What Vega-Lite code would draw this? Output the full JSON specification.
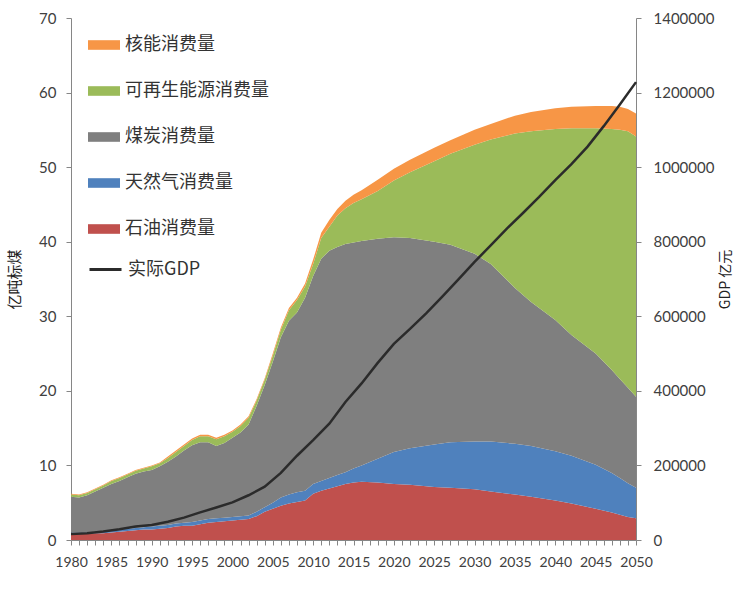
{
  "$schema": "https://vega.github.io/schema/vega-lite/v6.json",
  "width": 565,
  "height": 522,
  "autosize": "none",
  "padding": {"left": 71, "top": 18, "right": 100, "bottom": 57},
  "background": "white",
  "datasets": {
    "energy": [
      {"year": 1980, "oil": 0.8, "gas": 0.2, "coal": 4.8, "renewable": 0.3, "nuclear": 0.1},
      {"year": 1981, "oil": 0.8, "gas": 0.2, "coal": 4.7, "renewable": 0.3, "nuclear": 0.1},
      {"year": 1982, "oil": 0.8, "gas": 0.2, "coal": 5.0, "renewable": 0.3, "nuclear": 0.1},
      {"year": 1983, "oil": 0.9, "gas": 0.2, "coal": 5.4, "renewable": 0.3, "nuclear": 0.1},
      {"year": 1984, "oil": 0.9, "gas": 0.3, "coal": 5.8, "renewable": 0.3, "nuclear": 0.1},
      {"year": 1985, "oil": 1.0, "gas": 0.3, "coal": 6.2, "renewable": 0.4, "nuclear": 0.1},
      {"year": 1986, "oil": 1.1, "gas": 0.3, "coal": 6.5, "renewable": 0.4, "nuclear": 0.1},
      {"year": 1987, "oil": 1.2, "gas": 0.3, "coal": 6.9, "renewable": 0.4, "nuclear": 0.1},
      {"year": 1988, "oil": 1.3, "gas": 0.3, "coal": 7.3, "renewable": 0.4, "nuclear": 0.1},
      {"year": 1989, "oil": 1.4, "gas": 0.3, "coal": 7.5, "renewable": 0.4, "nuclear": 0.1},
      {"year": 1990, "oil": 1.4, "gas": 0.4, "coal": 7.6, "renewable": 0.5, "nuclear": 0.1},
      {"year": 1991, "oil": 1.5, "gas": 0.4, "coal": 8.0, "renewable": 0.4, "nuclear": 0.1},
      {"year": 1992, "oil": 1.6, "gas": 0.4, "coal": 8.5, "renewable": 0.5, "nuclear": 0.2},
      {"year": 1993, "oil": 1.8, "gas": 0.4, "coal": 9.0, "renewable": 0.6, "nuclear": 0.2},
      {"year": 1994, "oil": 1.9, "gas": 0.4, "coal": 9.7, "renewable": 0.6, "nuclear": 0.2},
      {"year": 1995, "oil": 1.9, "gas": 0.5, "coal": 10.3, "renewable": 0.7, "nuclear": 0.2},
      {"year": 1996, "oil": 2.1, "gas": 0.5, "coal": 10.5, "renewable": 0.8, "nuclear": 0.2},
      {"year": 1997, "oil": 2.3, "gas": 0.5, "coal": 10.3, "renewable": 0.8, "nuclear": 0.2},
      {"year": 1998, "oil": 2.4, "gas": 0.5, "coal": 9.7, "renewable": 0.9, "nuclear": 0.2},
      {"year": 1999, "oil": 2.5, "gas": 0.5, "coal": 10.0, "renewable": 0.9, "nuclear": 0.2},
      {"year": 2000, "oil": 2.6, "gas": 0.5, "coal": 10.6, "renewable": 0.8, "nuclear": 0.2},
      {"year": 2001, "oil": 2.7, "gas": 0.5, "coal": 11.2, "renewable": 0.9, "nuclear": 0.2},
      {"year": 2002, "oil": 2.8, "gas": 0.5, "coal": 12.2, "renewable": 0.9, "nuclear": 0.2},
      {"year": 2003, "oil": 3.2, "gas": 0.6, "coal": 14.2, "renewable": 0.7, "nuclear": 0.2},
      {"year": 2004, "oil": 3.8, "gas": 0.6, "coal": 16.4, "renewable": 0.7, "nuclear": 0.2},
      {"year": 2005, "oil": 4.2, "gas": 0.8, "coal": 18.9, "renewable": 0.8, "nuclear": 0.3},
      {"year": 2006, "oil": 4.6, "gas": 1.1, "coal": 21.5, "renewable": 1.0, "nuclear": 0.3},
      {"year": 2007, "oil": 4.9, "gas": 1.2, "coal": 23.3, "renewable": 1.4, "nuclear": 0.3},
      {"year": 2008, "oil": 5.1, "gas": 1.3, "coal": 24.1, "renewable": 1.7, "nuclear": 0.3},
      {"year": 2009, "oil": 5.3, "gas": 1.3, "coal": 25.9, "renewable": 1.5, "nuclear": 0.4},
      {"year": 2010, "oil": 6.2, "gas": 1.3, "coal": 27.9, "renewable": 1.6, "nuclear": 0.6},
      {"year": 2011, "oil": 6.6, "gas": 1.3, "coal": 29.8, "renewable": 2.8, "nuclear": 0.7},
      {"year": 2012, "oil": 6.9, "gas": 1.4, "coal": 30.5, "renewable": 3.2, "nuclear": 0.9},
      {"year": 2013, "oil": 7.2, "gas": 1.5, "coal": 30.6, "renewable": 4.2, "nuclear": 0.9},
      {"year": 2014, "oil": 7.5, "gas": 1.6, "coal": 30.6, "renewable": 4.8, "nuclear": 1.0},
      {"year": 2015, "oil": 7.7, "gas": 1.9, "coal": 30.3, "renewable": 5.3, "nuclear": 1.1},
      {"year": 2016, "oil": 7.8, "gas": 2.2, "coal": 30.1, "renewable": 5.6, "nuclear": 1.2},
      {"year": 2018, "oil": 7.7, "gas": 3.2, "coal": 29.5, "renewable": 6.4, "nuclear": 1.5},
      {"year": 2020, "oil": 7.5, "gas": 4.3, "coal": 28.8, "renewable": 7.6, "nuclear": 1.6},
      {"year": 2022, "oil": 7.4, "gas": 4.9, "coal": 28.2, "renewable": 8.8, "nuclear": 1.7},
      {"year": 2025, "oil": 7.1, "gas": 5.7, "coal": 27.2, "renewable": 10.8, "nuclear": 1.8},
      {"year": 2027, "oil": 7.0, "gas": 6.1, "coal": 26.5, "renewable": 12.2, "nuclear": 1.8},
      {"year": 2030, "oil": 6.8, "gas": 6.4, "coal": 25.2, "renewable": 14.6, "nuclear": 2.0},
      {"year": 2032, "oil": 6.5, "gas": 6.7, "coal": 23.8, "renewable": 16.7, "nuclear": 2.1},
      {"year": 2035, "oil": 6.1, "gas": 6.8, "coal": 20.9, "renewable": 20.7, "nuclear": 2.4},
      {"year": 2037, "oil": 5.8, "gas": 6.8, "coal": 19.3, "renewable": 22.9, "nuclear": 2.6},
      {"year": 2040, "oil": 5.3, "gas": 6.6, "coal": 17.6, "renewable": 25.6, "nuclear": 2.8},
      {"year": 2042, "oil": 4.9, "gas": 6.4, "coal": 16.2, "renewable": 27.7, "nuclear": 2.9},
      {"year": 2045, "oil": 4.2, "gas": 5.9, "coal": 14.9, "renewable": 30.2, "nuclear": 3.0},
      {"year": 2047, "oil": 3.7, "gas": 5.3, "coal": 13.8, "renewable": 32.3, "nuclear": 3.1},
      {"year": 2048, "oil": 3.4, "gas": 4.9, "coal": 13.3, "renewable": 33.4, "nuclear": 3.1},
      {"year": 2049, "oil": 3.1, "gas": 4.5, "coal": 12.8, "renewable": 34.4, "nuclear": 3.0},
      {"year": 2050, "oil": 2.9, "gas": 4.1, "coal": 12.2, "renewable": 34.9, "nuclear": 3.1}
    ],
    "gdp": [
      {"year": 1980, "gdp": 16000, "series": "实际GDP"},
      {"year": 1982, "gdp": 18000, "series": "实际GDP"},
      {"year": 1984, "gdp": 23000, "series": "实际GDP"},
      {"year": 1986, "gdp": 29000, "series": "实际GDP"},
      {"year": 1988, "gdp": 36000, "series": "实际GDP"},
      {"year": 1990, "gdp": 40000, "series": "实际GDP"},
      {"year": 1992, "gdp": 49000, "series": "实际GDP"},
      {"year": 1994, "gdp": 60000, "series": "实际GDP"},
      {"year": 1996, "gdp": 74000, "series": "实际GDP"},
      {"year": 1998, "gdp": 87000, "series": "实际GDP"},
      {"year": 2000, "gdp": 101000, "series": "实际GDP"},
      {"year": 2002, "gdp": 120000, "series": "实际GDP"},
      {"year": 2004, "gdp": 143000, "series": "实际GDP"},
      {"year": 2006, "gdp": 180000, "series": "实际GDP"},
      {"year": 2008, "gdp": 226000, "series": "实际GDP"},
      {"year": 2010, "gdp": 268000, "series": "实际GDP"},
      {"year": 2012, "gdp": 312000, "series": "实际GDP"},
      {"year": 2014, "gdp": 370000, "series": "实际GDP"},
      {"year": 2016, "gdp": 420000, "series": "实际GDP"},
      {"year": 2018, "gdp": 475000, "series": "实际GDP"},
      {"year": 2020, "gdp": 526000, "series": "实际GDP"},
      {"year": 2022, "gdp": 566000, "series": "实际GDP"},
      {"year": 2024, "gdp": 608000, "series": "实际GDP"},
      {"year": 2026, "gdp": 653000, "series": "实际GDP"},
      {"year": 2028, "gdp": 699000, "series": "实际GDP"},
      {"year": 2030, "gdp": 746000, "series": "实际GDP"},
      {"year": 2032, "gdp": 790000, "series": "实际GDP"},
      {"year": 2034, "gdp": 835000, "series": "实际GDP"},
      {"year": 2036, "gdp": 877000, "series": "实际GDP"},
      {"year": 2038, "gdp": 920000, "series": "实际GDP"},
      {"year": 2040, "gdp": 965000, "series": "实际GDP"},
      {"year": 2042, "gdp": 1008000, "series": "实际GDP"},
      {"year": 2044, "gdp": 1055000, "series": "实际GDP"},
      {"year": 2046, "gdp": 1110000, "series": "实际GDP"},
      {"year": 2048, "gdp": 1168000, "series": "实际GDP"},
      {"year": 2050, "gdp": 1228000, "series": "实际GDP"}
    ]
  },
  "encoding": {
    "x": {
      "field": "year", "type": "quantitative",
      "scale": {"domain": [1980, 2050], "nice": false, "zero": false},
      "axis": {
        "title": null,
        "values": [1980,1981,1982,1983,1984,1985,1986,1987,1988,1989,1990,1991,1992,1993,1994,1995,1996,1997,1998,1999,2000,2001,2002,2003,2004,2005,2006,2007,2008,2009,2010,2011,2012,2013,2014,2015,2016,2017,2018,2019,2020,2021,2022,2023,2024,2025,2026,2027,2028,2029,2030,2031,2032,2033,2034,2035,2036,2037,2038,2039,2040,2041,2042,2043,2044,2045,2046,2047,2048,2049,2050],
        "format": "d",
        "labelExpr": "datum.value % 5 === 0 ? datum.label : ''",
        "labelOverlap": false,
        "labelFlush": false,
        "labelBound": false,
        "tickSize": 5,
        "labelFontSize": 14,
        "labelPadding": 10
      }
    }
  },
  "layer": [
    {
      "data": {"name": "energy"},
      "transform": [
        {"fold": ["oil", "gas", "coal", "renewable", "nuclear"], "as": ["type", "amount"]},
        {"window": [{"op": "row_number", "as": "layerIndex"}], "groupby": ["year"]}
      ],
      "mark": {"type": "area", "interpolate": "linear"},
      "encoding": {
        "y": {
          "field": "amount", "type": "quantitative", "stack": "zero",
          "scale": {"domain": [0, 70], "nice": false},
          "axis": {
            "values": [0, 10, 20, 30, 40, 50, 60, 70],
            "title": "亿吨标煤",
            "titleFontSize": 15,
            "titlePadding": 16,
            "tickSize": 5,
            "labelFontSize": 15,
            "labelPadding": 10
          }
        },
        "order": {"field": "layerIndex", "type": "quantitative", "sort": "ascending"},
        "fill": {
          "field": "type", "type": "nominal",
          "scale": {
            "domain": ["oil", "gas", "coal", "renewable", "nuclear"],
            "range": ["#C0504D", "#4F81BD", "#7F7F7F", "#9BBB59", "#F79646"]
          },
          "legend": {
            "title": null,
            "orient": "none",
            "legendX": 17,
            "legendY": 11,
            "values": ["nuclear", "renewable", "coal", "gas", "oil"],
            "labelExpr": "datum.value === 'nuclear' ? '核能消费量' : datum.value === 'renewable' ? '可再生能源消费量' : datum.value === 'coal' ? '煤炭消费量' : datum.value === 'gas' ? '天然气消费量' : '石油消费量'",
            "symbolType": "M-1,-0.3H1V0.3H-1Z",
            "symbolSize": 1024,
            "symbolStrokeWidth": 0,
            "labelFont": "Noto Sans CJK SC",
            "labelFontSize": 18,
            "labelColor": "#333333",
            "labelOffset": 5,
            "rowPadding": 21,
            "padding": 0,
            "labelLimit": 300
          }
        }
      }
    },
    {
      "data": {"name": "gdp"},
      "mark": {"type": "line", "strokeWidth": 2.5},
      "encoding": {
        "y": {
          "field": "gdp", "type": "quantitative",
          "scale": {"domain": [0, 1400000], "nice": false},
          "axis": {
            "orient": "right",
            "values": [0, 200000, 400000, 600000, 800000, 1000000, 1200000, 1400000],
            "format": "d",
            "title": "GDP 亿元",
            "titleAngle": 270,
            "titleFontSize": 14,
            "titlePadding": 19,
            "tickSize": 5,
            "labelFontSize": 15,
            "labelPadding": 12
          }
        },
        "stroke": {
          "field": "series", "type": "nominal",
          "scale": {"range": ["#2B2B2B"]},
          "legend": {
            "title": null,
            "orient": "none",
            "legendX": 17,
            "legendY": 234,
            "symbolType": "stroke",
            "symbolSize": 1024,
            "symbolStrokeWidth": 3,
            "labelFont": "Noto Sans CJK SC",
            "labelFontSize": 18,
            "labelColor": "#333333",
            "labelOffset": 5,
            "padding": 0
          }
        }
      }
    }
  ],
  "resolve": {"scale": {"y": "independent"}},
  "config": {
    "view": {"stroke": null},
    "axis": {
      "grid": false,
      "domainColor": "#868686",
      "tickColor": "#868686",
      "labelColor": "#404040",
      "labelFont": "Lato",
      "titleFont": "Noto Sans CJK SC",
      "titleColor": "#222222",
      "titleFontWeight": "normal"
    }
  }
}
